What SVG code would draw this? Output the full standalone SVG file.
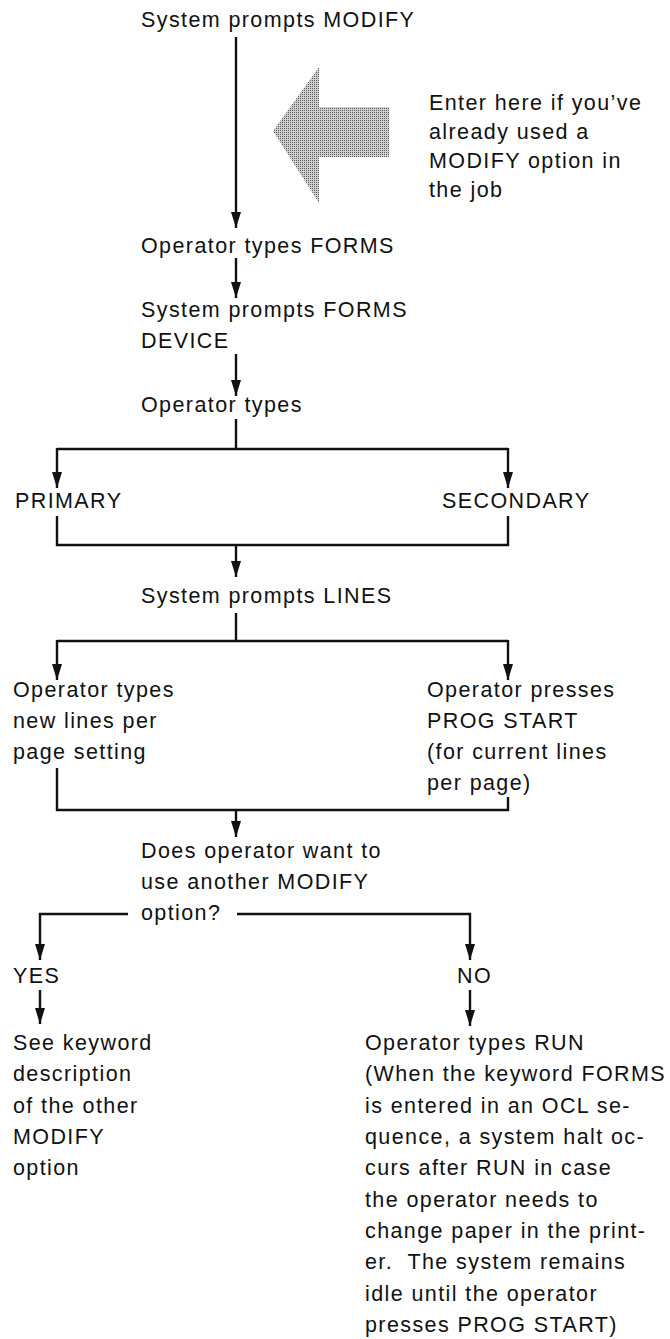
<svg xmlns="http://www.w3.org/2000/svg" width="670" height="1339" viewBox="0 0 670 1339">
<style>
text{font-family:"Liberation Sans",Arial,sans-serif;font-size:21.5px;letter-spacing:1.4px;fill:#111;white-space:pre}
.ln{fill:none;stroke:#111;stroke-width:2.4}
.ar{fill:none;stroke:#111;stroke-width:2.4;marker-end:url(#ah)}
</style>
<defs>
<marker id="ah" viewBox="0 0 16 10" refX="16" refY="5" markerWidth="16" markerHeight="10" markerUnits="userSpaceOnUse" orient="auto">
<path d="M0,0 L16,5 L0,10 z" fill="#111"/>
</marker>
<pattern id="dots" width="2" height="2" patternUnits="userSpaceOnUse">
<rect width="2" height="2" fill="#cfcfcf"/>
<rect width="1" height="1" fill="#5a5a5a"/>
</pattern>
</defs>

<g id="connectors">
<path class="ar" d="M236,37 V228"/>
<path class="ar" d="M236,258 V298"/>
<path class="ar" d="M236,354 V396"/>
<path class="ln" d="M236,419 V449 M57,449 H508"/>
<path class="ar" d="M57,448 V488"/>
<path class="ar" d="M508,448 V488"/>
<path class="ln" d="M57,516 V545 H508 V516"/>
<path class="ar" d="M236,545 V577"/>
<path class="ln" d="M236,613 V641 M57,641 H508"/>
<path class="ar" d="M57,640 V680"/>
<path class="ar" d="M508,640 V680"/>
<path class="ln" d="M57,768 V810 H508 V797"/>
<path class="ar" d="M236,810 V837"/>
<path class="ar" d="M128,914 H40 V960"/>
<path class="ar" d="M237,914 H470 V960"/>
<path class="ar" d="M40,990 V1024"/>
<path class="ar" d="M470,990 V1026"/>
</g>

<g id="entry-arrow">
<polygon points="273,131 319,67 319,107 389,107 389,157 319,157 319,203" fill="url(#dots)"/>
</g>

<g id="n-prompt-modify"><text x="141" y="27">System prompts MODIFY</text></g>
<g id="n-enter-here">
<text x="429" y="110">Enter here if you’ve</text>
<text x="429" y="139">already used a</text>
<text x="429" y="168">MODIFY option in</text>
<text x="429" y="197">the job</text>
</g>
<g id="n-types-forms"><text x="141" y="253">Operator types FORMS</text></g>
<g id="n-prompt-device"><text x="141" y="317">System prompts FORMS</text><text x="141" y="348">DEVICE</text></g>
<g id="n-types"><text x="141" y="412">Operator types</text></g>
<g id="n-primary"><text x="15" y="508">PRIMARY</text></g>
<g id="n-secondary"><text x="442" y="508">SECONDARY</text></g>
<g id="n-prompt-lines"><text x="141" y="603">System prompts LINES</text></g>
<g id="n-new-lines">
<text x="13" y="697">Operator types</text>
<text x="13" y="728">new lines per</text>
<text x="13" y="759">page setting</text>
</g>
<g id="n-prog-start">
<text x="427" y="697">Operator presses</text>
<text x="427" y="728">PROG START</text>
<text x="427" y="759">(for current lines</text>
<text x="427" y="790">per page)</text>
</g>
<g id="n-question">
<text x="141" y="858">Does operator want to</text>
<text x="141" y="889">use another MODIFY</text>
<text x="141" y="920">option?</text>
</g>
<g id="n-yes"><text x="13" y="983">YES</text></g>
<g id="n-no"><text x="457" y="983">NO</text></g>
<g id="n-see-keyword">
<text x="13" y="1050">See keyword</text>
<text x="13" y="1081">description</text>
<text x="13" y="1113">of the other</text>
<text x="13" y="1144">MODIFY</text>
<text x="13" y="1175">option</text>
</g>
<g id="n-run">
<text x="365" y="1050">Operator types RUN</text>
<text x="365" y="1081">(When the keyword FORMS</text>
<text x="365" y="1113">is entered in an OCL se-</text>
<text x="365" y="1144">quence, a system halt oc-</text>
<text x="365" y="1175">curs after RUN in case</text>
<text x="365" y="1207">the operator needs to</text>
<text x="365" y="1238">change paper in the print-</text>
<text x="365" y="1269">er.  The system remains</text>
<text x="365" y="1301">idle until the operator</text>
<text x="365" y="1332">presses PROG START)</text>
</g>
</svg>
